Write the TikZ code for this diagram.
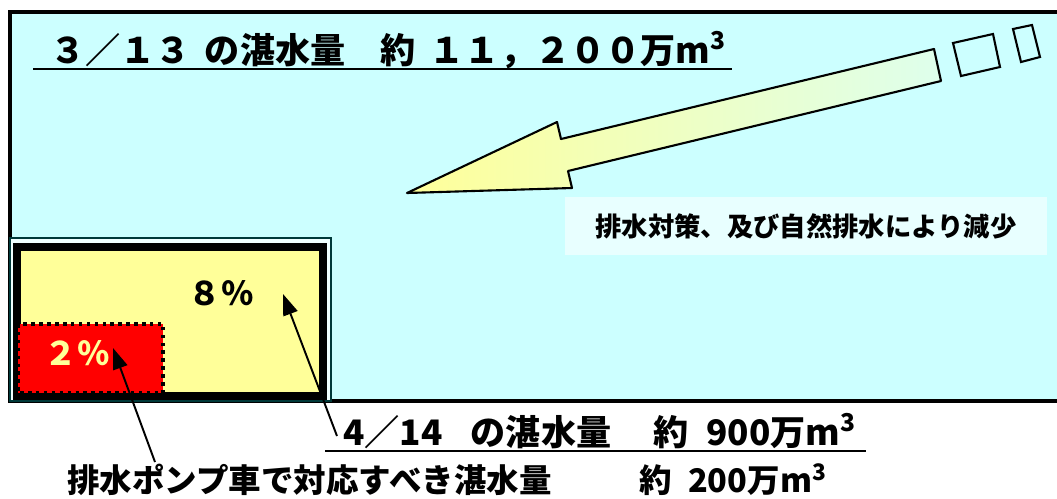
\documentclass[tikz,border=0pt]{standalone}
\usepackage{fontspec}
\setmainfont{Noto Sans CJK JP}
\usetikzlibrary{arrows.meta,positioning}
\definecolor{pondbg}{RGB}{204,255,255}
\definecolor{pale}{RGB}{255,255,153}
\definecolor{mint}{RGB}{222,255,236}
\tikzset{
  basic/.style   = {inner sep=0pt, anchor=base west, text depth=0.11cm},
  heading/.style = {basic, font=\fontsize{20}{24}\selectfont\bfseries},
  note/.style    = {basic, font=\fontsize{18.5}{22}\selectfont\bfseries},
  pct/.style     = {inner sep=0pt, font=\fontsize{18.5}{22}\selectfont\bfseries},
  memo/.style    = {inner sep=0pt, minimum width=9.66cm, minimum height=1.16cm,
                    fill=white!55!pondbg, font=\fontsize{15}{18}\selectfont\bfseries},
  uline/.style   = {line width=1.4pt},
  pond/.style    = {draw, line width=1.8pt, fill=pondbg},
  flow/.style    = {draw, line width=1.2pt, line join=round, left color=pale, right color=mint},
  bit/.style     = {draw, line width=1.2pt},
  frame/.style   = {draw=black!55!teal, line width=0.7pt, fill=white!70!pondbg},
  rest/.style    = {draw, line width=4pt, fill=pale},
  pump/.style    = {draw, line width=2pt, dash pattern=on 2pt off 2.5pt, fill=red},
  lead/.style    = {line width=1.1pt}
}

\begin{document}
\begin{tikzpicture}[x=0.02cm, y=-0.02cm, >={Triangle[length=12pt,width=8.5pt]}]
\useasboundingbox (0,0) rectangle (1057,498);

% flooded area on 3/13
\draw[pond] (10,12) rectangle (1080,401);
\node[heading] (t1) at (33,63) {\hspace*{0.34cm}３／１３\hspace{0.4em}の湛水量　約\hspace{0.4em}１１，２００万m\textsuperscript{3}\hspace*{0.1cm}};
\draw[uline] (t1.south west) -- (t1.south east);

% decrease by drainage
\draw[flow] (934,49) -- (561,139) -- (557,122) -- (407,193) -- (572,188) -- (568,171) -- (941,81) -- cycle;
\draw[bit] (953,43) -- (993,34) -- (1000,67) -- (961,76) -- cycle;
\draw[bit] (1013,29) -- (1032,25) -- (1040,57) -- (1021,62) -- cycle;
\node[memo] (m1) at (806,226) {排水対策、及び自然排水により減少};

% flooded area on 4/14
\draw[frame] (10,238) rectangle (331,401);
\draw[rest] (17,247) rectangle (323,396);
\draw[pump] (18,324) rectangle (163,393);
\node[pct] (p1) at (221,293) {８％};
\node[pct, text=pale] (p2) at (77,353) {２％};

% captions
\node[note, font=\fontsize{20}{24}\selectfont\bfseries] (n1) at (325,445) {\hspace*{0.36cm}4／14\hspace{0.8em}の湛水量\hspace{1.2em}約\hspace{0.5em}900万m\textsuperscript{3}\hspace*{0.2cm}};
\draw[uline] (n1.south west) -- (n1.south east);
\node[note] (n2) at (67,492) {排水ポンプ車で対応すべき湛水量\hspace{2.7em}約\hspace{0.5em}200万m\textsuperscript{3}};

% leader lines to each share
\coordinate (e1) at (337,436);
\coordinate (h1) at (283,294);
\coordinate (e2) at (155,462);
\coordinate (h2) at (113,348);
\foreach \a/\b in {e1/h1,e2/h2}
  \draw[lead,->] (\a) -- (\b);

\end{tikzpicture}
\end{document}
